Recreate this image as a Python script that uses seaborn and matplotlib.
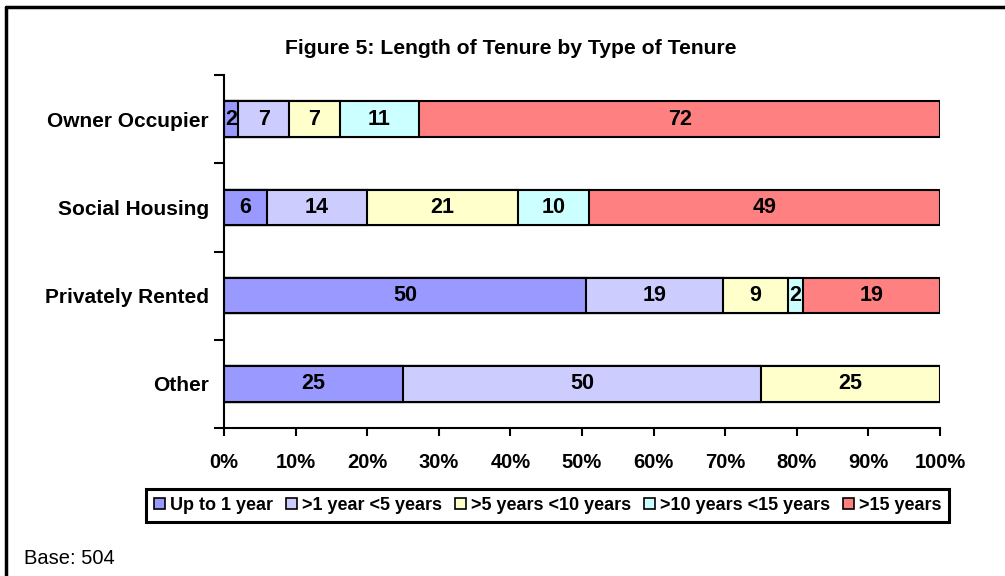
import numpy as np
import pandas as pd
import matplotlib
matplotlib.use("Agg")
import matplotlib.pyplot as plt
import seaborn as sns
from matplotlib.lines import Line2D
from matplotlib.patches import Patch

# data (percent of each tenure type)
tenure_types = ["Owner Occupier", "Social Housing", "Privately Rented", "Other"]
lengths = ["Up to 1 year", ">1 year <5 years", ">5 years <10 years",
           ">10 years <15 years", ">15 years"]
up_to_1 = [2, 6, 50, 25]
one_to_5 = [7, 14, 19, 50]
five_to_10 = [7, 21, 9, 25]
ten_to_15 = [11, 10, 2, 0]
over_15 = [72, 49, 19, 0]
colours = ["#9999FF", "#CCCCFF", "#FFFFCC", "#CCFFFF", "#FF8080"]

sns.set_style("white")
plt.rcParams["font.family"] = ["Liberation Sans", "DejaVu Sans"]
plt.rcParams["text.color"] = "black"
plt.rcParams["xtick.labelcolor"] = "black"
plt.rcParams["ytick.labelcolor"] = "black"

vals = np.array([up_to_1, one_to_5, five_to_10, ten_to_15, over_15], dtype=float)
pct = vals / vals.sum(axis=0) * 100  # 100% stacked
cum = np.cumsum(pct, axis=0)

fig = plt.figure(figsize=(10.05, 5.76), dpi=100)
ax = fig.add_axes([0.2229, 0.2569, 0.7124, 0.6129])

# draw the running totals from the longest down, so each segment shows
for i in range(len(lengths) - 1, -1, -1):
    df = pd.DataFrame({"tenure": tenure_types, "value": cum[i]})
    sns.barplot(data=df, x="value", y="tenure", color=colours[i], saturation=1,
                edgecolor="black", linewidth=1.5, width=0.4, orient="h", ax=ax)

# segment labels
for i in range(len(lengths)):
    for j in range(len(tenure_types)):
        if vals[i, j] > 0:
            centre = cum[i, j] - pct[i, j] / 2
            ax.text(centre, j, f"{int(vals[i, j])}", ha="center", va="center",
                    fontsize=15.5, fontweight="bold", color="black")

ax.set_xlim(0, 100)
ax.set_ylim(3.5, -0.5)
ax.set_xticks(np.arange(0, 101, 10))
ax.set_xticklabels([f"{t}%" for t in range(0, 101, 10)], fontsize=14.5, fontweight="bold")
ax.set_yticks(range(len(tenure_types)))
ax.set_yticklabels(tenure_types, fontsize=15, fontweight="bold")
ax.set_yticks(np.arange(-0.5, 4, 1), minor=True)
ax.tick_params(axis="y", which="major", length=0, pad=11)
ax.tick_params(axis="y", which="minor", length=7, width=1.5, color="black", direction="out", left=True)
ax.tick_params(axis="x", length=6, width=1.5, color="black", direction="out", bottom=True, pad=12)
ax.set_xlabel("")
ax.set_ylabel("")
for s in ["top", "right"]:
    ax.spines[s].set_visible(False)
for s in ["left", "bottom"]:
    ax.spines[s].set_color("black")
    ax.spines[s].set_linewidth(1.5)

fig.text(0.5085, 0.915, "Figure 5: Length of Tenure by Type of Tenure", ha="center", va="center",
         fontsize=15.2, fontweight="bold")

handles = [Patch(facecolor=c, edgecolor="black", linewidth=1.2) for c in colours]
leg = fig.legend(handles, lengths, loc="center", bbox_to_anchor=(0.545, 0.123), ncol=5,
                 frameon=True, fancybox=False, framealpha=1, prop={"weight": "bold", "size": 13},
                 handlelength=0.6, handleheight=0.6, handletextpad=0.25, columnspacing=0.75,
                 borderpad=0.45)
leg.get_frame().set_edgecolor("black")
leg.get_frame().set_linewidth(2.2)

fig.text(0.024, 0.014, "Base: 504", ha="left", va="bottom", fontsize=14.5)

# chart-area border (cropped at right and bottom)
fig.add_artist(Line2D([0.006, 0.006], [0, 0.988], color="black", linewidth=2.5, transform=fig.transFigure))
fig.add_artist(Line2D([0.006, 1.0], [0.988, 0.988], color="black", linewidth=2.5, transform=fig.transFigure))

fig.savefig("out.png", dpi=100)
